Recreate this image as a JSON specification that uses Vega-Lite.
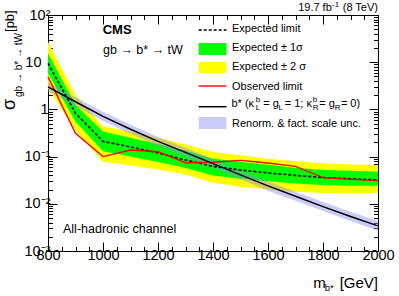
{
  "$schema": "https://vega.github.io/schema/vega-lite/v6.json",
  "width": 330,
  "height": 236,
  "autosize": "none",
  "padding": {"left": 48, "top": 15, "right": 21, "bottom": 45},
  "background": "white",
  "config": {
    "font": "Liberation Sans",
    "view": {"stroke": "black", "strokeWidth": 1},
    "axis": {"grid": false, "domainColor": "black", "tickColor": "black", "labelColor": "black", "domainWidth": 1, "tickWidth": 1, "labelFont": "Liberation Sans", "labelFontSize": 14.5, "labelOverlap": false, "labelFlush": false, "title": null},
    "text": {"font": "Liberation Sans", "color": "black"}
  },
  "datasets": {
    "lim": [
      {"mass": 800, "exp": 9.5, "g_lo": 5.8, "g_hi": 15.5, "y_lo": 2.8, "y_hi": 27, "obs": 4.9, "th": 3.0, "th_lo": 2.4, "th_hi": 3.75},
      {"mass": 900, "exp": 0.83, "g_lo": 0.55, "g_hi": 1.25, "y_lo": 0.36, "y_hi": 2.0, "obs": 0.31, "th": 1.45, "th_lo": 1.16, "th_hi": 1.81},
      {"mass": 1000, "exp": 0.21, "g_lo": 0.13, "g_hi": 0.34, "y_lo": 0.078, "y_hi": 0.44, "obs": 0.10, "th": 0.71, "th_lo": 0.57, "th_hi": 0.89},
      {"mass": 1100, "exp": 0.16, "g_lo": 0.1, "g_hi": 0.25, "y_lo": 0.065, "y_hi": 0.34, "obs": 0.138, "th": 0.38, "th_lo": 0.30, "th_hi": 0.475},
      {"mass": 1200, "exp": 0.12, "g_lo": 0.077, "g_hi": 0.185, "y_lo": 0.053, "y_hi": 0.25, "obs": 0.127, "th": 0.21, "th_lo": 0.168, "th_hi": 0.26},
      {"mass": 1300, "exp": 0.085, "g_lo": 0.057, "g_hi": 0.135, "y_lo": 0.042, "y_hi": 0.18, "obs": 0.074, "th": 0.123, "th_lo": 0.098, "th_hi": 0.154},
      {"mass": 1400, "exp": 0.062, "g_lo": 0.04, "g_hi": 0.09, "y_lo": 0.028, "y_hi": 0.125, "obs": 0.076, "th": 0.071, "th_lo": 0.057, "th_hi": 0.089},
      {"mass": 1500, "exp": 0.052, "g_lo": 0.034, "g_hi": 0.078, "y_lo": 0.023, "y_hi": 0.107, "obs": 0.083, "th": 0.041, "th_lo": 0.033, "th_hi": 0.051},
      {"mass": 1600, "exp": 0.045, "g_lo": 0.03, "g_hi": 0.067, "y_lo": 0.02, "y_hi": 0.09, "obs": 0.073, "th": 0.024, "th_lo": 0.019, "th_hi": 0.030},
      {"mass": 1700, "exp": 0.04, "g_lo": 0.027, "g_hi": 0.058, "y_lo": 0.018, "y_hi": 0.08, "obs": 0.062, "th": 0.0145, "th_lo": 0.0116, "th_hi": 0.018},
      {"mass": 1800, "exp": 0.036, "g_lo": 0.025, "g_hi": 0.052, "y_lo": 0.017, "y_hi": 0.072, "obs": 0.036, "th": 0.0087, "th_lo": 0.007, "th_hi": 0.0109},
      {"mass": 1900, "exp": 0.034, "g_lo": 0.024, "g_hi": 0.05, "y_lo": 0.017, "y_hi": 0.068, "obs": 0.033, "th": 0.0054, "th_lo": 0.0043, "th_hi": 0.0068},
      {"mass": 2000, "exp": 0.032, "g_lo": 0.024, "g_hi": 0.048, "y_lo": 0.017, "y_hi": 0.066, "obs": 0.031, "th": 0.0034, "th_lo": 0.0027, "th_hi": 0.0043}
    ]
  },
  "layer": [
    {
      "data": {"name": "lim"},
      "mark": {"type": "area", "color": "#ffff00"},
      "encoding": {
        "x": {"field": "mass", "type": "quantitative", "scale": {"domain": [800, 2000], "nice": false, "zero": false},
          "axis": {"orient": "bottom", "values": [800,850,900,950,1000,1050,1100,1150,1200,1250,1300,1350,1400,1450,1500,1550,1600,1650,1700,1750,1800,1850,1900,1950,2000],
            "labelExpr": "datum.value % 200 == 0 ? format(datum.value, 'd') : ''",
            "tickSize": {"condition": {"test": "datum.value % 200 == 0", "value": -9}, "value": -4.5},
            "labelPadding": 6}},
        "y": {"field": "y_lo", "type": "quantitative", "scale": {"type": "log", "domain": [0.001, 100], "nice": false},
          "axis": {"orient": "left", "values": [0.001,0.002,0.003,0.004,0.005,0.006,0.007,0.008,0.009,0.01,0.02,0.03,0.04,0.05,0.06,0.07,0.08,0.09,0.1,0.2,0.3,0.4,0.5,0.6,0.7,0.8,0.9,1,2,3,4,5,6,7,8,9,10,20,30,40,50,60,70,80,90,100],
            "labelExpr": "datum.value == 100 ? '10²' : datum.value == 10 ? '10' : datum.value == 1 ? '1' : datum.value == 0.1 ? '10⁻¹' : datum.value == 0.01 ? '10⁻²' : datum.value == 0.001 ? '10⁻³' : ''",
            "tickSize": {"condition": {"test": "indexof([0.001,0.01,0.1,1,10,100], datum.value) >= 0", "value": -9}, "value": -4.5},
            "labelPadding": {"condition": [{"test": "datum.value == 10", "value": 16}, {"test": "datum.value == 1", "value": 9}], "value": 7}}},
        "y2": {"field": "y_hi"}
      }
    },
    {
      "data": {"name": "lim"},
      "mark": {"type": "area", "color": "#00ff00"},
      "encoding": {
        "x": {"field": "mass", "type": "quantitative", "scale": {"domain": [800, 2000], "nice": false, "zero": false},
          "axis": {"orient": "top", "labels": false, "values": [800,850,900,950,1000,1050,1100,1150,1200,1250,1300,1350,1400,1450,1500,1550,1600,1650,1700,1750,1800,1850,1900,1950,2000],
            "tickSize": {"condition": {"test": "datum.value % 200 == 0", "value": -9}, "value": -4.5}}},
        "y": {"field": "g_lo", "type": "quantitative", "scale": {"type": "log", "domain": [0.001, 100], "nice": false},
          "axis": {"orient": "right", "labels": false, "values": [0.001,0.002,0.003,0.004,0.005,0.006,0.007,0.008,0.009,0.01,0.02,0.03,0.04,0.05,0.06,0.07,0.08,0.09,0.1,0.2,0.3,0.4,0.5,0.6,0.7,0.8,0.9,1,2,3,4,5,6,7,8,9,10,20,30,40,50,60,70,80,90,100],
            "tickSize": {"condition": {"test": "indexof([0.001,0.01,0.1,1,10,100], datum.value) >= 0", "value": -9}, "value": -4.5}}},
        "y2": {"field": "g_hi"}
      }
    },
    {
      "data": {"name": "lim"},
      "mark": {"type": "area", "color": "#8c8cf0", "opacity": 0.45},
      "encoding": {
        "x": {"field": "mass", "type": "quantitative", "scale": {"domain": [800, 2000], "nice": false, "zero": false}, "axis": null},
        "y": {"field": "th_lo", "type": "quantitative", "scale": {"type": "log", "domain": [0.001, 100], "nice": false}, "axis": null},
        "y2": {"field": "th_hi"}
      }
    },
    {
      "data": {"name": "lim"},
      "mark": {"type": "line", "color": "black", "strokeWidth": 1.6, "strokeDash": [3, 2]},
      "encoding": {
        "x": {"field": "mass", "type": "quantitative", "scale": {"domain": [800, 2000], "nice": false, "zero": false}, "axis": null},
        "y": {"field": "exp", "type": "quantitative", "scale": {"type": "log", "domain": [0.001, 100], "nice": false}, "axis": null}
      }
    },
    {
      "data": {"name": "lim"},
      "mark": {"type": "line", "color": "#ff0000", "strokeWidth": 1.4},
      "encoding": {
        "x": {"field": "mass", "type": "quantitative", "scale": {"domain": [800, 2000], "nice": false, "zero": false}, "axis": null},
        "y": {"field": "obs", "type": "quantitative", "scale": {"type": "log", "domain": [0.001, 100], "nice": false}, "axis": null}
      }
    },
    {
      "data": {"name": "lim"},
      "mark": {"type": "line", "color": "black", "strokeWidth": 1.5},
      "encoding": {
        "x": {"field": "mass", "type": "quantitative", "scale": {"domain": [800, 2000], "nice": false, "zero": false}, "axis": null},
        "y": {"field": "th", "type": "quantitative", "scale": {"type": "log", "domain": [0.001, 100], "nice": false}, "axis": null}
      }
    },
    {
      "data": {"values": [{"mass": 1348, "mass2": 1449, "v": 14.2, "v2": 25.5}]},
      "mark": {"type": "rect", "color": "#00ff00"},
      "encoding": {
        "x": {"field": "mass", "type": "quantitative", "scale": {"domain": [800, 2000], "nice": false, "zero": false}, "axis": null},
        "x2": {"field": "mass2"},
        "y": {"field": "v", "type": "quantitative", "scale": {"type": "log", "domain": [0.001, 100], "nice": false}, "axis": null},
        "y2": {"field": "v2"}
      }
    },
    {
      "data": {"values": [{"mass": 1348, "mass2": 1449, "v": 5.9, "v2": 10.1}]},
      "mark": {"type": "rect", "color": "#ffff00"},
      "encoding": {
        "x": {"field": "mass", "type": "quantitative", "scale": {"domain": [800, 2000], "nice": false, "zero": false}, "axis": null},
        "x2": {"field": "mass2"},
        "y": {"field": "v", "type": "quantitative", "scale": {"type": "log", "domain": [0.001, 100], "nice": false}, "axis": null},
        "y2": {"field": "v2"}
      }
    },
    {
      "data": {"values": [{"mass": 1348, "mass2": 1449, "v": 0.385, "v2": 0.69}]},
      "mark": {"type": "rect", "color": "#8c8cf0", "opacity": 0.45},
      "encoding": {
        "x": {"field": "mass", "type": "quantitative", "scale": {"domain": [800, 2000], "nice": false, "zero": false}, "axis": null},
        "x2": {"field": "mass2"},
        "y": {"field": "v", "type": "quantitative", "scale": {"type": "log", "domain": [0.001, 100], "nice": false}, "axis": null},
        "y2": {"field": "v2"}
      }
    },
    {
      "data": {"values": [{"mass": 1348, "mass2": 1449, "v": 48.1}]},
      "mark": {"type": "rule", "color": "black", "strokeWidth": 1.6, "strokeDash": [3, 2]},
      "encoding": {
        "x": {"field": "mass", "type": "quantitative", "scale": {"domain": [800, 2000], "nice": false, "zero": false}, "axis": null},
        "x2": {"field": "mass2"},
        "y": {"field": "v", "type": "quantitative", "scale": {"type": "log", "domain": [0.001, 100], "nice": false}, "axis": null}
      }
    },
    {
      "data": {"values": [{"mass": 1348, "mass2": 1449, "v": 3.13}]},
      "mark": {"type": "rule", "color": "#ff0000", "strokeWidth": 1.4},
      "encoding": {
        "x": {"field": "mass", "type": "quantitative", "scale": {"domain": [800, 2000], "nice": false, "zero": false}, "axis": null},
        "x2": {"field": "mass2"},
        "y": {"field": "v", "type": "quantitative", "scale": {"type": "log", "domain": [0.001, 100], "nice": false}, "axis": null}
      }
    },
    {
      "data": {"values": [{"mass": 1348, "mass2": 1449, "v": 1.14}]},
      "mark": {"type": "rule", "color": "black", "strokeWidth": 1.5},
      "encoding": {
        "x": {"field": "mass", "type": "quantitative", "scale": {"domain": [800, 2000], "nice": false, "zero": false}, "axis": null},
        "x2": {"field": "mass2"},
        "y": {"field": "v", "type": "quantitative", "scale": {"type": "log", "domain": [0.001, 100], "nice": false}, "axis": null}
      }
    },
    {
      "data": {"values": [
        {"mass": 1469, "v": 50.5, "t": "Expected limit"},
        {"mass": 1469, "v": 20, "t": "Expected ± 1σ"},
        {"mass": 1469, "v": 7.9, "t": "Expected ± 2 σ"},
        {"mass": 1469, "v": 2.99, "t": "Observed limit"},
        {"mass": 1467, "v": 1.3, "t": "b* (κ"},
        {"mass": 1582.5, "v": 1.3, "t": "= g"},
        {"mass": 1661, "v": 1.3, "t": "= 1; κ"},
        {"mass": 1786, "v": 1.3, "t": "= g"},
        {"mass": 1865, "v": 1.3, "t": "= 0)"},
        {"mass": 1469, "v": 0.479, "t": "Renorm. & fact. scale unc."}
      ]},
      "mark": {"type": "text", "align": "left", "baseline": "middle", "fontSize": 11},
      "encoding": {
        "x": {"field": "mass", "type": "quantitative", "scale": {"domain": [800, 2000], "nice": false, "zero": false}, "axis": null},
        "y": {"field": "v", "type": "quantitative", "scale": {"type": "log", "domain": [0.001, 100], "nice": false}, "axis": null},
        "text": {"field": "t"}
      }
    },
    {
      "data": {"values": [
        {"mass": 1555, "v": 1.3, "t": "b"},
        {"mass": 1763, "v": 1.3, "t": "b"}
      ]},
      "mark": {"type": "text", "align": "left", "baseline": "middle", "fontSize": 8, "dy": -4},
      "encoding": {
        "x": {"field": "mass", "type": "quantitative", "scale": {"domain": [800, 2000], "nice": false, "zero": false}, "axis": null},
        "y": {"field": "v", "type": "quantitative", "scale": {"type": "log", "domain": [0.001, 100], "nice": false}, "axis": null},
        "text": {"field": "t"}
      }
    },
    {
      "data": {"values": [
        {"mass": 1555, "v": 1.3, "t": "L"},
        {"mass": 1638.5, "v": 1.3, "t": "L"},
        {"mass": 1763, "v": 1.3, "t": "R"},
        {"mass": 1843, "v": 1.3, "t": "R"}
      ]},
      "mark": {"type": "text", "align": "left", "baseline": "middle", "fontSize": 8, "dy": 4},
      "encoding": {
        "x": {"field": "mass", "type": "quantitative", "scale": {"domain": [800, 2000], "nice": false, "zero": false}, "axis": null},
        "y": {"field": "v", "type": "quantitative", "scale": {"type": "log", "domain": [0.001, 100], "nice": false}, "axis": null},
        "text": {"field": "t"}
      }
    },
    {
      "data": {"values": [{"mass": 999, "v": 39, "t": "CMS"}]},
      "mark": {"type": "text", "align": "left", "baseline": "alphabetic", "fontSize": 13, "fontWeight": "bold"},
      "encoding": {
        "x": {"field": "mass", "type": "quantitative", "scale": {"domain": [800, 2000], "nice": false, "zero": false}, "axis": null},
        "y": {"field": "v", "type": "quantitative", "scale": {"type": "log", "domain": [0.001, 100], "nice": false}, "axis": null},
        "text": {"field": "t"}
      }
    },
    {
      "data": {"values": [
        {"mass": 1000, "v": 14.9, "t": "gb → b* → tW"},
        {"mass": 854.5, "v": 0.0024, "t": "All-hadronic channel"}
      ]},
      "mark": {"type": "text", "align": "left", "baseline": "alphabetic", "fontSize": 12.5},
      "encoding": {
        "x": {"field": "mass", "type": "quantitative", "scale": {"domain": [800, 2000], "nice": false, "zero": false}, "axis": null},
        "y": {"field": "v", "type": "quantitative", "scale": {"type": "log", "domain": [0.001, 100], "nice": false}, "axis": null},
        "text": {"field": "t"}
      }
    },
    {
      "data": {"values": [
        {"mass": 1832, "v": 121.5, "t": "19.7 fb"},
        {"mass": 2000, "v": 121.5, "t": "(8 TeV)"}
      ]},
      "mark": {"type": "text", "align": "right", "baseline": "alphabetic", "fontSize": 11},
      "encoding": {
        "x": {"field": "mass", "type": "quantitative", "scale": {"domain": [800, 2000], "nice": false, "zero": false}, "axis": null},
        "y": {"field": "v", "type": "quantitative", "scale": {"type": "log", "domain": [0.001, 100], "nice": false}, "axis": null},
        "text": {"field": "t"}
      }
    },
    {
      "data": {"values": [{"mass": 1859, "v": 147.5, "t": "-1"}]},
      "mark": {"type": "text", "align": "right", "baseline": "alphabetic", "fontSize": 8},
      "encoding": {
        "x": {"field": "mass", "type": "quantitative", "scale": {"domain": [800, 2000], "nice": false, "zero": false}, "axis": null},
        "y": {"field": "v", "type": "quantitative", "scale": {"type": "log", "domain": [0.001, 100], "nice": false}, "axis": null},
        "text": {"field": "t"}
      }
    },
    {
      "data": {"values": [
        {"mass": 1810, "v": 0.000164, "t": "m"},
        {"mass": 2000, "v": 0.000164, "t": "[GeV]"}
      ]},
      "mark": {"type": "text", "align": "right", "baseline": "alphabetic", "fontSize": 15},
      "encoding": {
        "x": {"field": "mass", "type": "quantitative", "scale": {"domain": [800, 2000], "nice": false, "zero": false}, "axis": null},
        "y": {"field": "v", "type": "quantitative", "scale": {"type": "log", "domain": [0.001, 100], "nice": false}, "axis": null},
        "text": {"field": "t"}
      }
    },
    {
      "data": {"values": [{"mass": 1839, "v": 0.000142, "t": "b*"}]},
      "mark": {"type": "text", "align": "right", "baseline": "alphabetic", "fontSize": 9.5},
      "encoding": {
        "x": {"field": "mass", "type": "quantitative", "scale": {"domain": [800, 2000], "nice": false, "zero": false}, "axis": null},
        "y": {"field": "v", "type": "quantitative", "scale": {"type": "log", "domain": [0.001, 100], "nice": false}, "axis": null},
        "text": {"field": "t"}
      }
    },
    {
      "data": {"values": [{"mass": 679, "v": 0.971, "t": "σ"}]},
      "mark": {"type": "text", "align": "left", "baseline": "alphabetic", "fontSize": 18, "angle": 270},
      "encoding": {
        "x": {"field": "mass", "type": "quantitative", "scale": {"domain": [800, 2000], "nice": false, "zero": false}, "axis": null},
        "y": {"field": "v", "type": "quantitative", "scale": {"type": "log", "domain": [0.001, 100], "nice": false}, "axis": null},
        "text": {"field": "t"}
      }
    },
    {
      "data": {"values": [{"mass": 706, "v": 1.83, "t": "gb → b* → tW"}]},
      "mark": {"type": "text", "align": "left", "baseline": "alphabetic", "fontSize": 10, "angle": 270},
      "encoding": {
        "x": {"field": "mass", "type": "quantitative", "scale": {"domain": [800, 2000], "nice": false, "zero": false}, "axis": null},
        "y": {"field": "v", "type": "quantitative", "scale": {"type": "log", "domain": [0.001, 100], "nice": false}, "axis": null},
        "text": {"field": "t"}
      }
    },
    {
      "data": {"values": [{"mass": 675, "v": 43.7, "t": "[pb]"}]},
      "mark": {"type": "text", "align": "left", "baseline": "alphabetic", "fontSize": 13, "angle": 270},
      "encoding": {
        "x": {"field": "mass", "type": "quantitative", "scale": {"domain": [800, 2000], "nice": false, "zero": false}, "axis": null},
        "y": {"field": "v", "type": "quantitative", "scale": {"type": "log", "domain": [0.001, 100], "nice": false}, "axis": null},
        "text": {"field": "t"}
      }
    }
  ],
  "resolve": {"axis": {"x": "independent", "y": "independent"}}
}
